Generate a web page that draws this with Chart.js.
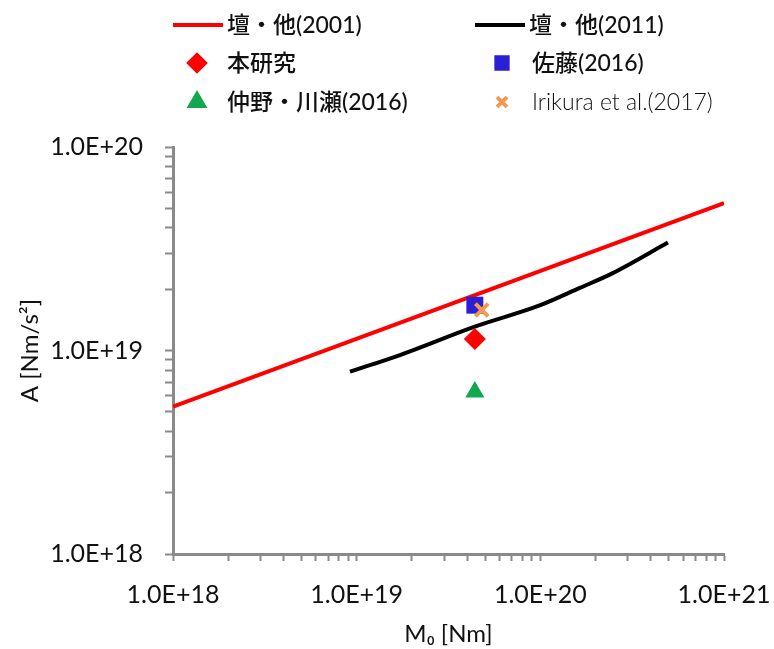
<!DOCTYPE html>
<html>
<head>
<meta charset="utf-8">
<script src="https://cdn.jsdelivr.net/npm/chart.js@4"></script>
<style>
  html, body { margin: 0; padding: 0; background: #fff; }
  #wrap { width: 774px; height: 649px; }
</style>
</head>
<body>
<div id="wrap"><canvas id="c"></canvas></div>
<script>
// 壇・他(2001)  A = const * M0^(1/3)
const dan2001X = [1e18, 1e21];
const dan2001Y = [5.3e18, 5.3e19];
// 壇・他(2011)
const dan2011X = [9.2e18, 1.72e19, 4.4e19, 1.0e20, 1.64e20, 2.48e20, 4.95e20];
const dan2011Y = [7.87e18, 9.5e18, 1.31e19, 1.67e19, 2.03e19, 2.40e19, 3.39e19];
// single points
const honkenkyuX = [4.4e19], honkenkyuY = [1.14e19];
const satoX = [4.4e19], satoY = [1.67e19];
const nakanoX = [4.4e19], nakanoY = [6.25e18];
const irikuraX = [4.8e19], irikuraY = [1.58e19];

const decadesX = [1e18, 1e19, 1e20, 1e21];
const decadesY = [1e18, 1e19, 1e20];
const minorSteps = [2, 3, 4, 5, 6, 7, 8, 9];

const tickFont = { family: 'Lato, "Noto Sans", sans-serif', size: 25 };
const axisGray = '#8a8a8a';

const pts = (xs, ys) => xs.map((x, i) => ({ x: x, y: ys[i] }));
const tickValues = decades => {
  const out = [];
  decades.forEach((d, i) => {
    out.push(d);
    if (i < decades.length - 1) minorSteps.forEach(m => out.push(d * m));
  });
  return out;
};
const isDecade = v => Math.abs(Math.log10(v) - Math.round(Math.log10(v))) < 1e-9;
const fmt = v => isDecade(v) ? v.toExponential(1).toUpperCase() : '';

const datasets = [
  {
    label: 'Irikura et al.(2017)', data: pts(irikuraX, irikuraY),
    showLine: false, pointStyle: 'crossRot', pointRadius: 9, pointBorderWidth: 4,
    borderColor: '#f39a4e', backgroundColor: '#f39a4e', order: 0
  },
  {
    label: '本研究', data: pts(honkenkyuX, honkenkyuY),
    showLine: false, pointStyle: 'rectRot', pointRadius: 11, pointBorderWidth: 0,
    borderColor: '#ff0000', backgroundColor: '#ff0000', order: 1
  },
  {
    label: '佐藤(2016)', data: pts(satoX, satoY),
    showLine: false, pointStyle: 'rect', pointRadius: 12, pointBorderWidth: 0,
    borderColor: '#2b1fd3', backgroundColor: '#2b1fd3', order: 2
  },
  {
    label: '仲野・川瀬(2016)', data: pts(nakanoX, nakanoY),
    showLine: false, pointStyle: 'triangle', pointRadius: 11, pointBorderWidth: 0,
    borderColor: '#12a84f', backgroundColor: '#12a84f', order: 3
  },
  {
    label: '壇・他(2011)', data: pts(dan2011X, dan2011Y),
    showLine: true, pointRadius: 0, borderWidth: 4, cubicInterpolationMode: 'monotone',
    borderColor: '#000000', backgroundColor: '#000000', order: 10
  },
  {
    label: '壇・他(2001)', data: pts(dan2001X, dan2001Y),
    showLine: true, pointRadius: 0, borderWidth: 4,
    borderColor: '#ff0000', backgroundColor: '#ff0000', order: 11
  }
];

// legend layout: [dataset label, x of marker/line, y]
const legendItems = [
  ['壇・他(2001)', 173, 25, 'line'],
  ['壇・他(2011)', 475, 25, 'line'],
  ['本研究', 197, 63, 'pt'],
  ['佐藤(2016)', 502, 63, 'pt'],
  ['仲野・川瀬(2016)', 197, 102, 'pt'],
  ['Irikura et al.(2017)', 502, 102, 'pt']
];

const legendPlugin = {
  id: 'topLegend',
  afterDraw(chart) {
    const ctx = chart.ctx;
    ctx.save();
    ctx.textBaseline = 'middle';
    ctx.textAlign = 'left';
    legendItems.forEach(([label, x, y, kind]) => {
      const ds = chart.data.datasets.find(d => d.label === label);
      let tx;
      if (kind === 'line') {
        ctx.strokeStyle = ds.borderColor;
        ctx.lineWidth = 4;
        ctx.beginPath();
        ctx.moveTo(x, y);
        ctx.lineTo(x + 50, y);
        ctx.stroke();
        tx = x + 54;
      } else {
        ctx.fillStyle = ds.backgroundColor;
        ctx.strokeStyle = ds.borderColor;
        ctx.lineWidth = ds.pointStyle === 'crossRot' ? 4 : 0;
        Chart.helpers.drawPoint(ctx, {
          pointStyle: ds.pointStyle, radius: ds.pointStyle === 'crossRot' ? 7 : 8,
          borderWidth: ctx.lineWidth, rotation: 0
        }, x, y);
        tx = x + 30;
      }
      ctx.fillStyle = '#111';
      const light = label.startsWith('Irikura');
      ctx.font = (light ? '300 ' : '500 ') + '23px Lato, "Noto Sans CJK JP", sans-serif';
      ctx.fillText(label, tx, y + 1);
    });
    ctx.restore();
  }
};

new Chart(document.getElementById('c'), {
  type: 'scatter',
  data: { datasets: datasets },
  plugins: [legendPlugin],
  options: {
    responsive: true,
    maintainAspectRatio: false,
    animation: false,
    layout: { padding: { top: 147, right: 50, left: 0, bottom: 0 } },
    plugins: { legend: { display: false }, tooltip: { enabled: false } },
    scales: {
      x: {
        type: 'logarithmic',
        min: 1e18, max: 1e21,
        afterBuildTicks: s => { s.ticks = tickValues(decadesX).map(v => ({ value: v })); },
        afterFit: s => { s.height = 95; s.paddingLeft = 0; s.paddingRight = 0; },
        ticks: { callback: v => fmt(v), autoSkip: false, maxRotation: 0, padding: 19,
                 color: '#111', font: tickFont },
        grid: { display: true, drawOnChartArea: false, drawTicks: true, tickLength: 7,
                tickColor: axisGray, tickWidth: 2 },
        border: { display: true, color: axisGray, width: 3 },
        title: { display: true, text: 'M₀ [Nm]', color: '#111',
                 font: { family: 'Lato, "DejaVu Sans", sans-serif', size: 24 }, padding: { top: 6, bottom: 0 } }
      },
      y: {
        type: 'logarithmic',
        min: 1e18, max: 1e20,
        afterBuildTicks: s => { s.ticks = tickValues(decadesY).map(v => ({ value: v })); },
        afterFit: s => { s.width = 173; s.paddingTop = 0; s.paddingBottom = 0; },
        ticks: { callback: v => fmt(v), autoSkip: false, padding: 22,
                 color: '#111', font: tickFont },
        grid: { display: true, drawOnChartArea: false, drawTicks: true, tickLength: 8,
                tickColor: axisGray, tickWidth: 2 },
        border: { display: true, color: axisGray, width: 3 },
        title: { display: true, text: 'A [Nm/s²]', color: '#111',
                 font: { family: 'Lato, "DejaVu Sans", sans-serif', size: 24 }, padding: { top: 16, bottom: 0 } }
      }
    }
  }
});
</script>
</body>
</html>
